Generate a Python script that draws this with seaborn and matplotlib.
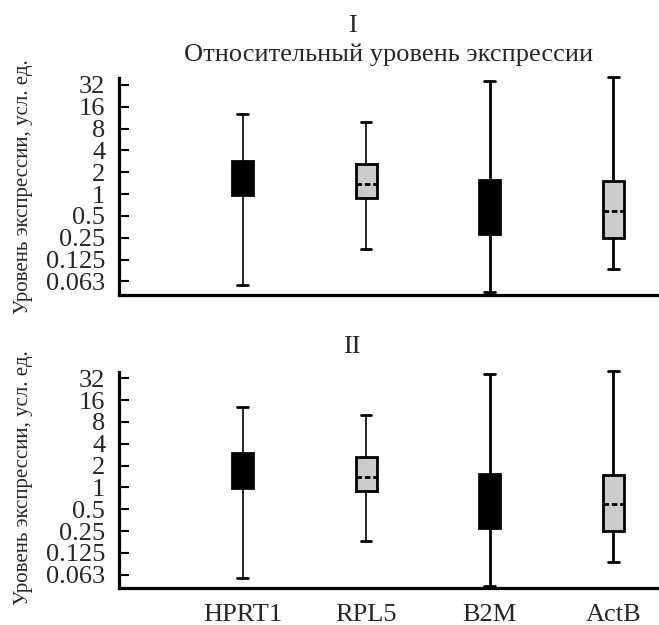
import numpy as np
import pandas as pd
import matplotlib
matplotlib.use('Agg')
import matplotlib.pyplot as plt
import seaborn as sns
from matplotlib.ticker import FixedLocator, FixedFormatter, NullLocator

# Genes (categories)
genes = ['HPRT1', 'RPL5', 'B2M', 'ActB']

# Panel I: box statistics
low_1 = [0.056, 0.177, 0.045, 0.092]
q1_1 = [0.96, 0.88, 0.278, 0.248]
med_1 = [1.7, 1.39, 0.65, 0.58]
q3_1 = [2.9, 2.56, 1.54, 1.49]
high_1 = [12.6, 10.0, 36.0, 41.3]

# Panel II
low_2 = [0.056, 0.18, 0.044, 0.093]
q1_2 = [0.98, 0.88, 0.279, 0.253]
med_2 = [1.7, 1.40, 0.65, 0.59]
q3_2 = [2.94, 2.59, 1.52, 1.48]
high_2 = [12.8, 10.1, 36.3, 40.8]

# Y tick values and labels
y_ticks = [0.0625, 0.125, 0.25, 0.5, 1, 2, 4, 8, 16, 32]
y_tick_labels = ['0.063', '0.125', '0.25', '0.5', '1', '2', '4', '8', '16', '32']

panel_names = ['I', 'II']
title_text = 'Относительный уровень экспрессии'
ylabel_text = 'Уровень экспрессии, усл. ед.'

palette = {'HPRT1': 'black', 'RPL5': '#cccccc', 'B2M': 'black', 'ActB': '#cccccc'}
whisker_lw = [1.2, 1.2, 2.0, 2.0]


def make_frame(low, q1, med, q3, high):
    # five points per gene -> quartiles land exactly on q1/med/q3
    rows = []
    for i, g in enumerate(genes):
        for v in (low[i], q1[i], med[i], q3[i], high[i]):
            rows.append({'gene': g, 'value': v})
    return pd.DataFrame(rows)


sns.set_style('ticks')
plt.rcParams['font.family'] = ['Liberation Serif', 'DejaVu Serif']

fig = plt.figure(figsize=(6.59, 6.25), dpi=100)
ax_top = fig.add_axes([0.1806, 0.528, 0.8194, 0.3467])
ax_bot = fig.add_axes([0.1806, 0.0587, 0.8194, 0.3466])

frames = [make_frame(low_1, q1_1, med_1, q3_1, high_1),
          make_frame(low_2, q1_2, med_2, q3_2, high_2)]

for ax, df in zip([ax_top, ax_bot], frames):
    sns.boxplot(data=df, x='gene', y='value', hue='gene', order=genes,
                hue_order=genes, palette=palette, saturation=1,
                whis=(0, 100), width=0.17, log_scale=2, linecolor='black',
                linewidth=2.0, legend=False, ax=ax,
                medianprops=dict(linestyle=(0, (2, 1)), color='black'))

    # thinner whiskers on the first two genes
    for cont, lw in zip(ax.containers, whisker_lw):
        for line in getattr(cont, 'whiskers', []):
            line.set_linewidth(lw)
    for line in ax.lines:
        line.set_clip_on(False)

    ax.set_xlim(-1.0, 3.37)
    ax.set_ylim(0.0405, 39.5)
    ax.yaxis.set_major_locator(FixedLocator(y_ticks))
    ax.yaxis.set_major_formatter(FixedFormatter(y_tick_labels))
    ax.yaxis.set_minor_locator(NullLocator())
    ax.tick_params(axis='y', direction='in', length=7, width=1.5,
                   labelsize=19, pad=10, color='black')
    ax.tick_params(axis='x', length=0, labelsize=19, pad=11)
    ax.set_xlabel('')
    ax.set_ylabel('')
    sns.despine(ax=ax)
    for side in ['left', 'bottom']:
        ax.spines[side].set_linewidth(2.3)
        ax.spines[side].set_color('black')

ax_top.set_xticklabels([])

# Panel numerals and title
fig.text(352 / 659, 1 - 31.7 / 625, panel_names[0], ha='center',
         va='baseline', fontsize=19)
fig.text(389 / 659, 1 - 61.5 / 625, title_text, ha='center',
         va='baseline', fontsize=19)
fig.text(352 / 659, 1 - 353.3 / 625, panel_names[1], ha='center',
         va='baseline', fontsize=19)

# Y labels
fig.text(24 / 659, 1 - 186.7 / 625, ylabel_text, rotation=90,
         ha='center', va='center', fontsize=15)
fig.text(24 / 659, 1 - 478 / 625, ylabel_text, rotation=90,
         ha='center', va='center', fontsize=15)

fig.savefig('out.png', dpi=100)
plt.close(fig)
